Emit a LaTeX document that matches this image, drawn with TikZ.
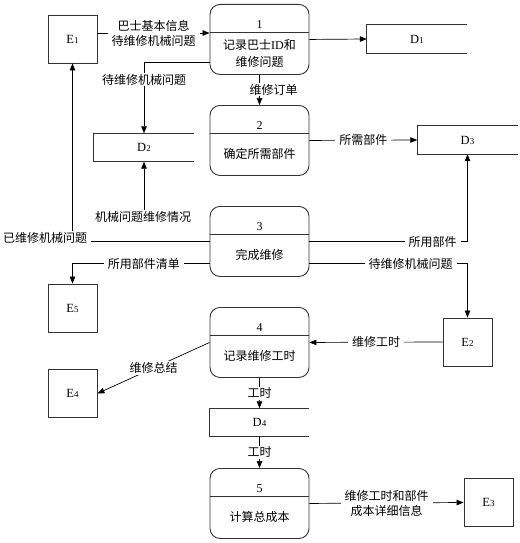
\documentclass[tikz,border=0pt]{standalone}
\usepackage{fontspec}
\setmainfont{Liberation Serif}
\newfontfamily\cjk{Noto Sans CJK SC}
\usetikzlibrary{arrows.meta}
\newcommand{\smallnum}[1]{{\fontsize{9}{9}\selectfont #1}}
\tikzset{
  box/.style={draw=black!80, line width=0.9pt},
  proc/.style={box, rounded corners=10pt, minimum width=99pt, minimum height=70pt, inner sep=0pt},
  ext/.style={box, minimum width=49pt, minimum height=48pt, inner sep=0pt, font=\fontsize{12.5}{14}\selectfont},
  store/.style={minimum width=100pt, minimum height=28pt, inner sep=0pt, font=\fontsize{12.5}{14}\selectfont},
  flow/.style={line width=0.7pt, -{Triangle[length=7pt,width=5.5pt]}},
  lbl/.style={fill=white, inner xsep=4pt, inner ysep=1pt, font=\cjk\fontsize{12}{15}\selectfont, align=center},
  ptxt/.style={font=\cjk\fontsize{12}{17}\selectfont, align=center},
  pnum/.style={font=\fontsize{12}{14}\selectfont}
}

\begin{document}
\begin{tikzpicture}[x=1pt, y=-1pt]
  \useasboundingbox (0,0) rectangle (519,543);

  % processes
  \foreach \pn/\y/\txt in {1/4/{记录巴士{\rmfamily ID}和\\维修问题}, 2/105/确定所需部件,
      3/206/完成维修, 4/307/记录维修工时, 5/468/计算总成本}{
    \node[proc, anchor=north] (P\pn) at (259.5,\y) {};
    \draw[box] ([yshift=-28pt]P\pn.north west) -- ([yshift=-28pt]P\pn.north east);
    \node[pnum] at ([yshift=-21pt]P\pn.north) {\pn};
    \node[ptxt] at ([yshift=-49pt]P\pn.north) {\txt};
  }

  % external entities
  \node[ext] (E1) at (72.5,39) {E\smallnum{1}};
  \node[ext] (E2) at (467.5,342) {E\smallnum{2}};
  \node[ext] (E3) at (488.5,502.5) {E\smallnum{3}};
  \node[ext] (E4) at (72.5,393.5) {E\smallnum{4}};
  \node[ext] (E5) at (72.5,308) {E\smallnum{5}};

  % data stores
  \node[store] (D1) at (417,39) {D\smallnum{1}};
  \node[store] (D2) at (144,147.5) {D\smallnum{2}};
  \node[store] (D3) at (467.5,140) {D\smallnum{3}};
  \node[store, minimum width=99pt] (D4) at (259.5,422.5) {D\smallnum{4}};
  \foreach \d in {D1,D2,D3,D4}
    \draw[box] (\d.north east) -- (\d.north west) -- (\d.south west) -- (\d.south east);

  % flows
  \draw[flow] ([yshift=6pt]E1.east) -- ([yshift=6pt]E1.east -| P1.west)
    node[lbl, midway] {巴士基本信息\\待维修机械问题};
  \draw[flow] (P1.east) -- (D1.west);
  \draw[flow] ([yshift=-23pt]P1.west) -| (D2.north) node[lbl, pos=0.62] {待维修机械问题};
  \draw[flow] (P1.south) -- (P2.north) node[lbl, midway, xshift=14pt] {维修订单};
  \draw[flow] (P2.east) -- (D3.west) node[lbl, midway] {所需部件};
  \draw[flow] (P3.west) -| (E1.south);
  \node[lbl] (Ldone) at (45,238) {已维修机械问题};
  \node[lbl] (Lrep) at (143,217) {机械问题维修情况};
  \draw[flow] (Lrep.north -| D2.south) -- (D2.south);
  \draw[flow] (P3.east) -| (D3.south) node[lbl, pos=0.39] {所用部件};
  \draw[flow] ([yshift=-22pt]P3.east) -| (E2.north) node[lbl, pos=0.32] {待维修机械问题};
  \draw[flow] ([yshift=-22pt]P3.west) -| (E5.north) node[lbl, pos=0.24] {所用部件清单};
  \draw[flow] (E2.west) -- (P4.east) node[lbl, midway] {维修工时};
  \draw[flow] (P4.west) -- (E4.east) node[lbl, midway] {维修总结};
  \draw[flow] (P4.south) -- (D4.north) node[lbl, midway] {工时};
  \draw[flow] (D4.south) -- (P5.north) node[lbl, midway] {工时};
  \draw[flow] (P5.east) -- (E3.west) node[lbl, midway] {维修工时和部件\\成本详细信息};
\end{tikzpicture}
\end{document}
